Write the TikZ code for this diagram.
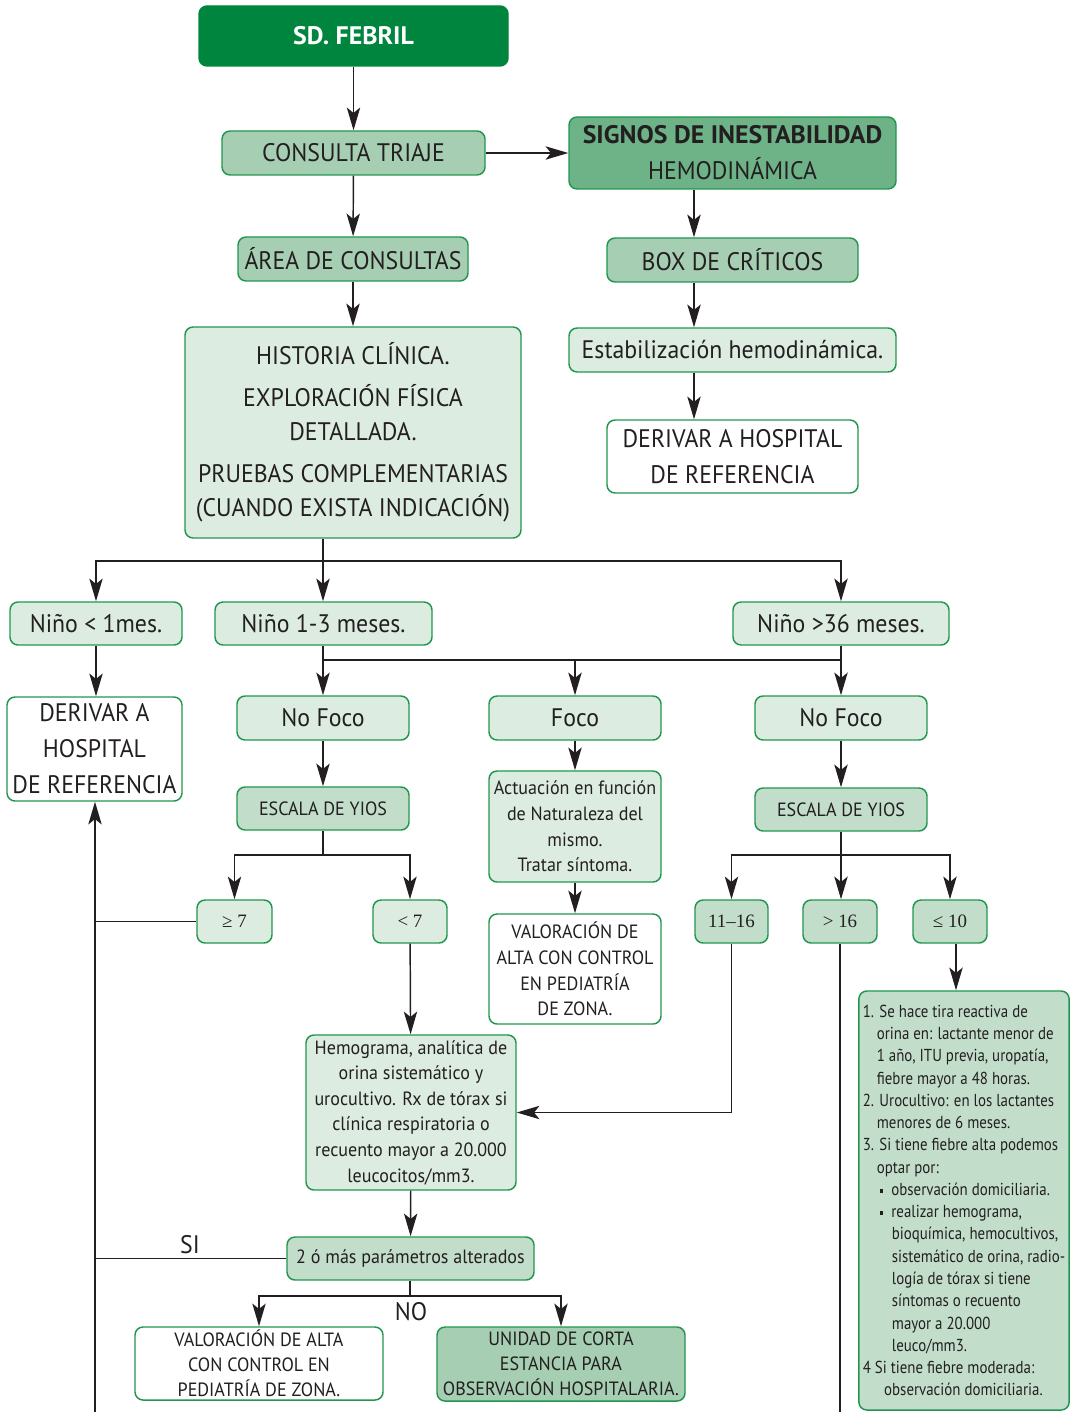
\documentclass[tikz,border=0pt]{standalone}
\usepackage{fontspec}
\setmainfont{PT Sans}[FakeStretch=0.94]
\newfontfamily\headfont{PT Sans}[FakeStretch=1.02]
\newfontfamily\notefont{PT Sans}[FakeStretch=0.86]
\newfontfamily\numfont{Liberation Serif}
\usetikzlibrary{arrows.meta}

\definecolor{ink}{RGB}{35,31,32}
\definecolor{dkgreen}{RGB}{0,133,62}
\definecolor{edgegreen}{RGB}{34,150,78}
\definecolor{fillM}{RGB}{110,178,136}
\definecolor{fillA}{RGB}{166,206,178}
\definecolor{fillB}{RGB}{194,222,202}
\definecolor{fillC}{RGB}{220,236,225}

% box placed by its pixel corners: name, x1, y1, x2, y2, style, text
\newcommand\placebox[7]{%
  \node[flowbox,#6,minimum width={(#4-#2)*0.75pt},minimum height={(#5-#3)*0.75pt}]
    (#1) at ({(#2+#4)/2},{(#3+#5)/2}) {#7};}

\begin{document}
\begin{tikzpicture}[x=0.75pt,y=-0.75pt,
  flowbox/.style={draw=edgegreen,line width=1.1pt,rounded corners=6pt,text=ink,
    align=center,inner sep=0pt},
  bigtxt/.style={font=\fontsize{19}{25.5}\selectfont},
  midtxt/.style={font=\fontsize{14.4}{19.2}\selectfont},
  numtxt/.style={font=\numfont\fontsize{14.2}{18}\selectfont},
  arr/.style={draw=ink,line width=1.1pt,-{Stealth[length=17pt,width=10pt,inset=4pt]}},
  ln/.style={draw=ink,line width=1.1pt},
  lbl/.style={text=ink,inner sep=0pt,font=\fontsize{19}{22}\selectfont}]
\useasboundingbox (0,0) rectangle (1073,1412);

% columns of the right-hand branch and side lines
\coordinate (rcol) at (694,0);
\coordinate (notecol) at (956,0);
\coordinate (lv) at (95,1412);
\coordinate (gtend) at (840,1412);

% top part
\placebox{sd}{199}{6}{508}{66}{fill=dkgreen,draw=dkgreen,text=white,font=\headfont\bfseries\fontsize{19}{24}\selectfont}{SD. FEBRIL}
\placebox{triaje}{222}{131}{485}{175}{fill=fillA,bigtxt}{CONSULTA TRIAJE}
\placebox{signos}{569}{117}{896}{189}{fill=fillM,font=\fontsize{19}{27}\selectfont}{{\headfont\bfseries SIGNOS DE INESTABILIDAD}\\HEMODINÁMICA}
\placebox{area}{238}{237}{468}{281}{fill=fillA,bigtxt}{ÁREA DE CONSULTAS}
\placebox{critic}{607}{238}{858}{282}{fill=fillA,bigtxt}{BOX DE CRÍTICOS}
\placebox{estab}{569}{328}{896}{372}{fill=fillC,bigtxt}{Estabilización hemodinámica.}
\placebox{derivR}{607}{420}{858}{493}{fill=white,font=\fontsize{19}{26.5}\selectfont}{DERIVAR A HOSPITAL\\DE REFERENCIA}
\placebox{hist}{185}{327}{521}{538}{fill=fillC,bigtxt}{HISTORIA CLÍNICA.\\[6pt]EXPLORACIÓN FÍSICA\\DETALLADA.\\[6pt]PRUEBAS COMPLEMENTARIAS\\(CUANDO EXISTA INDICACIÓN)}

% age groups
\placebox{nino1}{10}{602}{182}{645}{fill=fillC,bigtxt}{Niño < 1mes.}
\placebox{nino2}{215}{602}{432}{645}{fill=fillC,bigtxt}{Niño 1-3 meses.}
\placebox{nino3}{733}{602}{949}{645}{fill=fillC,bigtxt}{Niño >36 meses.}
\placebox{derivL}{7}{697}{182}{801}{fill=white,font=\fontsize{19}{27}\selectfont}{DERIVAR A\\HOSPITAL\\DE REFERENCIA}

\placebox{nofocoL}{237}{696}{409}{740}{fill=fillC,bigtxt}{No Foco}
\placebox{foco}{489}{696}{661}{740}{fill=fillC,bigtxt}{Foco}
\placebox{nofocoR}{755}{696}{927}{740}{fill=fillC,bigtxt}{No Foco}

\placebox{escL}{237}{787}{409}{830}{fill=fillB,midtxt}{ESCALA DE YIOS}
\placebox{escR}{755}{788}{927}{831}{fill=fillB,midtxt}{ESCALA DE YIOS}
\placebox{actu}{489}{771}{661}{882}{fill=fillC,midtxt}{Actuación en función\\de Naturaleza del\\mismo.\\Tratar síntoma.}
\placebox{valor}{489}{914}{661}{1024}{fill=white,midtxt}{VALORACIÓN DE\\ALTA CON CONTROL\\EN PEDIATRÍA\\DE ZONA.}

% scores
\placebox{ge7}{197}{900}{272}{943}{fill=fillC,numtxt}{≥ 7}
\placebox{lt7}{373}{900}{447}{943}{fill=fillC,numtxt}{< 7}
\placebox{r1116}{695}{900}{768}{943}{fill=fillB,numtxt}{11–16}
\placebox{gt16}{803}{900}{877}{943}{fill=fillB,numtxt}{> 16}
\placebox{le10}{913}{900}{987}{943}{fill=fillB,numtxt}{≤ 10}

\placebox{hemo}{306}{1035}{516}{1190}{fill=fillC,midtxt}{Hemograma, analítica de\\orina sistemático y\\urocultivo. Rx de tórax si\\clínica respiratoria o\\recuento mayor a 20.000\\leucocitos/mm3.}
\placebox{dos}{287}{1237}{534}{1280}{fill=fillB,midtxt}{2 ó más parámetros alterados}
\placebox{valA}{135}{1327}{383}{1400}{fill=white,font=\fontsize{14.4}{18.8}\selectfont}{VALORACIÓN DE ALTA\\CON CONTROL EN\\PEDIATRÍA DE ZONA.}
\placebox{unid}{437}{1327}{685}{1401}{fill=fillA,font=\fontsize{14.4}{18.8}\selectfont}{UNIDAD DE CORTA\\ESTANCIA PARA\\OBSERVACIÓN HOSPITALARIA.}

% notes
\placebox{notes}{859}{991}{1069}{1410}{fill=fillB,align=left,inner xsep=3pt,
  font=\notefont\fontsize{13}{16.7}\selectfont}{%
1.\hspace{4pt}Se hace tira reactiva de\\
\hspace*{10.5pt}orina en: lactante menor de\\
\hspace*{10.5pt}1 año, ITU previa, uropatía,\\
\hspace*{10.5pt}fiebre mayor a 48 horas.\\
2. Urocultivo: en los lactantes\\
\hspace*{10.5pt}menores de 6 meses.\\
3. Si tiene fiebre alta podemos\\
\hspace*{10.5pt}optar por:\\
\hspace*{12.5pt}\rule[0.3ex]{0.45ex}{0.45ex}\hspace{6pt}observación domiciliaria.\\
\hspace*{12.5pt}\rule[0.3ex]{0.45ex}{0.45ex}\hspace{6pt}realizar hemograma,\\
\hspace*{21.8pt}bioquímica, hemocultivos,\\
\hspace*{21.8pt}sistemático de orina, radio-\\
\hspace*{21.8pt}logía de tórax si tiene\\
\hspace*{21.8pt}síntomas o recuento\\
\hspace*{21.8pt}mayor a 20.000\\
\hspace*{21.8pt}leuco/mm3.\\
4 Si tiene fiebre moderada:\\
\hspace*{16pt}observación domiciliaria.}

% connectors, upper part
\draw[arr] (sd) -- (triaje);
\draw[arr] (triaje) -- (signos);
\draw[arr] (triaje) -- (area);
\draw[arr] (area) -- (hist);
\draw[arr] (signos.south -| rcol) -- (critic.north -| rcol);
\draw[arr] (critic.south -| rcol) -- (estab.north -| rcol);
\draw[arr] (estab.south -| rcol) -- (derivR.north -| rcol);

% split into age groups
\coordinate (split) at (323,561);
\draw[ln] (hist.south -| split) -- (split);
\draw[arr] (split) -| (nino1);
\draw[arr] (split) -- (nino2.north -| split);
\draw[arr] (split) -| (nino3);
\draw[arr] (nino1.south) -- (nino1.south |- derivL.north);

% focus branches
\coordinate (fsplit) at (323,660);
\draw[arr] (nino2.south -| fsplit) -- (nofocoL.north -| fsplit);
\draw[arr] (fsplit) -| (foco);
\draw[ln] (fsplit) -- (fsplit -| nino3);
\draw[arr] (nino3) -- (nofocoR);
\draw[arr] (nofocoL) -- (escL);
\draw[arr] (foco) -- (actu);
\draw[arr] (actu) -- (valor);
\draw[arr] (nofocoR) -- (escR);

% score branches
\coordinate (ysplitL) at (323,855);
\draw[ln] (escL) -- (ysplitL);
\draw[arr] (ysplitL) -| (ge7);
\draw[arr] (ysplitL) -| (lt7);
\coordinate (ysplitR) at (841,855);
\draw[arr] (escR.south -| ysplitR) -- (gt16.north -| ysplitR);
\draw[arr] (ysplitR) -| (r1116);
\draw[arr] (ysplitR) -| (le10);
\draw[arr] (le10.south -| notecol) -- (notes.north -| notecol);
\draw[ln] (gt16) -- (gtend);
\draw[arr] (r1116) |- (hemo);
\draw[arr] (lt7) -- (hemo);

% left return line
\draw[ln] (ge7) -- (ge7.west -| lv);
\draw[arr] (lv) -- (lv |- derivL.south);

% lower part
\draw[arr] (hemo) -- (dos);
\draw[ln] (dos) -- (dos.west -| lv);
\node[lbl] (si) at (190,1245) {SI};
\coordinate (nsplit) at (410,1296);
\draw[ln] (dos.south -| nsplit) -- (nsplit);
\draw[arr] (nsplit) -| (valA);
\draw[arr] (nsplit) -| (unid);
\node[lbl] (no) at (411,1312) {NO};
\end{tikzpicture}
\end{document}
